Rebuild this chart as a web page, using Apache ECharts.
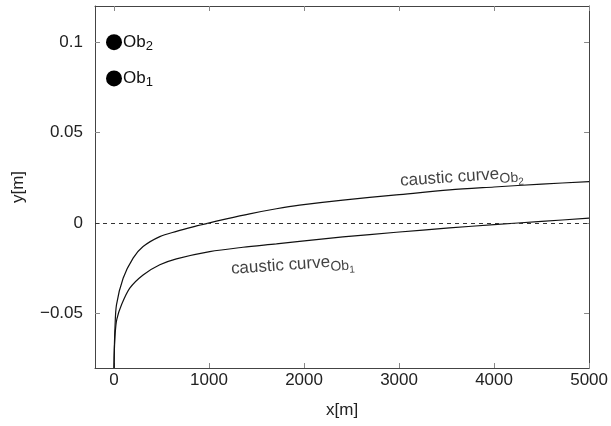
<!DOCTYPE html>
<html>
<head>
<meta charset="utf-8">
<script src="https://cdn.jsdelivr.net/npm/echarts@6/dist/echarts.min.js"></script>
<style>
  html, body { margin: 0; padding: 0; background: #fff; }
  #chart { width: 611px; height: 426px; }
</style>
</head>
<body>
<div id="chart"></div>
<script>
// caustic curve of Ob2 (x in m, y in m)
var ob2X = [0, 3, 10, 26, 96, 201, 306, 482, 657, 832, 973, 1183, 1428, 1709, 1953, 2409, 2971, 3531, 4000, 4500, 5000];
var ob2Y = [-0.08, -0.07, -0.058, -0.0451, -0.0304, -0.0193, -0.0129, -0.0074, -0.0045, -0.0020, -0.0002, 0.0024, 0.0052, 0.0080, 0.0100, 0.0128, 0.0156, 0.0184, 0.0200, 0.0216, 0.0230];

// caustic curve of Ob1
var ob1X = [0, 4, 12, 30, 79, 166, 306, 482, 657, 1007, 1357, 1709, 1953, 2409, 2971, 3531, 4000, 4500, 5000];
var ob1Y = [-0.08, -0.07, -0.061, -0.053, -0.0451, -0.0359, -0.0286, -0.0230, -0.0197, -0.0157, -0.0133, -0.0114, -0.0100, -0.0076, -0.0050, -0.0026, -0.0008, 0.0010, 0.0028];

// observers
var obsNames = ['1', '2'];
var obsX = [0, 0];
var obsY = [0.08, 0.1];

// curve labels: anchor in data coords
var curveLabelNames = ['1', '2'];
var curveLabelX = [1880, 3660];
var curveLabelY = [-0.023, 0.0256];

var xTicks = [0, 1000, 2000, 3000, 4000, 5000];
var yTicks = [-0.05, 0, 0.05, 0.1];

function pairs(xs, ys) {
    var out = [];
    for (var i = 0; i < xs.length; i++) out.push([xs[i], ys[i]]);
    return out;
}

var axisColor = '#444';
var textFont = '"Liberation Sans", Arial, sans-serif';

var chart = echarts.init(document.getElementById('chart'), null, {renderer: 'canvas'});

chart.setOption({
    animation: false,
    backgroundColor: '#fff',
    textStyle: {fontFamily: textFont},
    grid: {left: 95, right: 21, top: 6, bottom: 58},
    xAxis: [{
        type: 'value',
        min: -200,
        max: 5000,
        name: 'x[m]',
        nameLocation: 'middle',
        nameGap: 34,
        nameTextStyle: {fontSize: 17, color: '#222'},
        axisLine: {show: true, onZero: false, lineStyle: {color: axisColor}},
        axisTick: {inside: true, length: 5, customValues: xTicks, lineStyle: {color: '#888'}},
        axisLabel: {
            customValues: xTicks,
            fontSize: 17,
            color: '#222',
            margin: 4,
            formatter: function (v) { return String(v); }
        },
        splitLine: {show: false}
    }, {
        type: 'value',
        position: 'top',
        min: -200,
        max: 5000,
        axisLine: {show: true, onZero: false, lineStyle: {color: axisColor}},
        axisTick: {inside: true, length: 5, customValues: xTicks, lineStyle: {color: '#888'}},
        axisLabel: {show: false},
        splitLine: {show: false}
    }],
    yAxis: [{
        type: 'value',
        min: -0.08,
        max: 0.12,
        name: 'y[m]',
        nameLocation: 'middle',
        nameGap: 68,
        nameTextStyle: {fontSize: 17, color: '#222'},
        axisLine: {show: true, onZero: false, lineStyle: {color: axisColor}},
        axisTick: {inside: true, length: 5, customValues: yTicks, lineStyle: {color: '#888'}},
        axisLabel: {
            customValues: yTicks,
            fontSize: 17,
            color: '#222',
            margin: 12,
            formatter: function (v) { return String(+v.toFixed(4)).replace('-', '\u2212'); }
        },
        splitLine: {show: false}
    }, {
        type: 'value',
        position: 'right',
        min: -0.08,
        max: 0.12,
        axisLine: {show: true, onZero: false, lineStyle: {color: axisColor}},
        axisTick: {inside: true, length: 5, customValues: yTicks, lineStyle: {color: '#888'}},
        axisLabel: {show: false},
        splitLine: {show: false}
    }],
    series: [{
        name: 'caustic Ob2',
        type: 'line',
        data: pairs(ob2X, ob2Y),
        smooth: 0.3,
        showSymbol: false,
        silent: true,
        lineStyle: {color: '#111', width: 1.2},
        markLine: {
            silent: true,
            symbol: 'none',
            label: {show: false},
            lineStyle: {color: '#333', width: 1, type: [4, 4]},
            data: [{yAxis: 0}]
        }
    }, {
        name: 'caustic Ob1',
        type: 'line',
        data: pairs(ob1X, ob1Y),
        smooth: 0.3,
        showSymbol: false,
        silent: true,
        lineStyle: {color: '#111', width: 1.2}
    }, {
        name: 'observers',
        type: 'scatter',
        data: obsNames.map(function (n, i) { return {value: [obsX[i], obsY[i]], name: n}; }),
        symbol: 'circle',
        symbolSize: 16,
        itemStyle: {color: '#000', opacity: 1},
        label: {
            show: true,
            position: 'right',
            distance: 1,
            formatter: function (p) { return '{a|Ob}{s|' + p.name + '}'; },
            rich: {
                a: {fontSize: 17, color: '#111', fontFamily: textFont},
                s: {fontSize: 13, color: '#111', fontFamily: textFont, padding: [9, 0, 0, 0]}
            }
        }
    }, {
        name: 'curve labels',
        type: 'scatter',
        data: curveLabelNames.map(function (n, i) { return {value: [curveLabelX[i], curveLabelY[i]], name: n}; }),
        symbolSize: 0,
        silent: true,
        label: {
            show: true,
            position: 'inside',
            rotate: 4,
            formatter: function (p) { return '{a|caustic curve}{s|Ob}{ss|' + p.name + '}'; },
            rich: {
                a: {fontSize: 17, color: '#111', fontFamily: textFont},
                s: {fontSize: 14, color: '#111', fontFamily: textFont, padding: [10, 0, 0, 0]},
                ss: {fontSize: 10, color: '#111', fontFamily: textFont, padding: [18, 0, 0, 0]}
            }
        }
    }]
});
</script>
</body>
</html>
